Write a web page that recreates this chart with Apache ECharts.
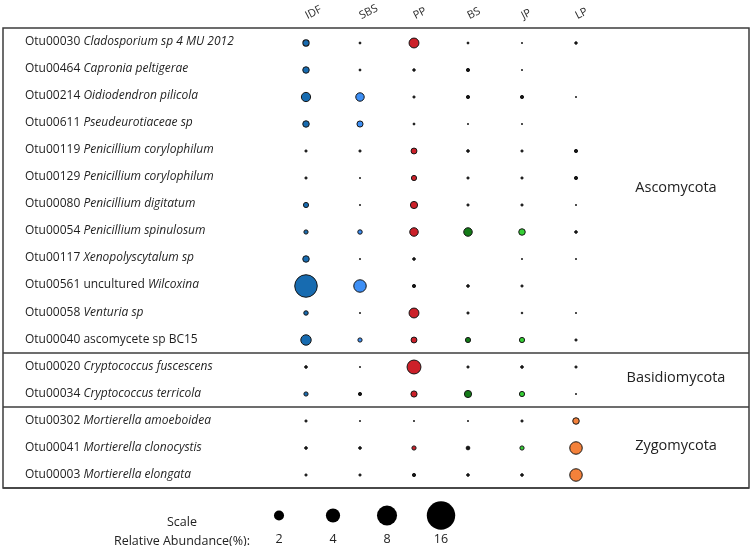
<!DOCTYPE html>
<html>
<head>
<meta charset="utf-8">
<script src="https://cdn.jsdelivr.net/npm/echarts@6/dist/echarts.min.js"></script>
<style>html,body{margin:0;padding:0;background:#fff;}#chart{width:752px;height:546px;}</style>
</head>
<body>
<div id="chart"></div>
<script>
// ---- data ----
const sites = ['IDF', 'SBS', 'PP', 'BS', 'JP', 'LP'];
const otuIds = ['Otu00030','Otu00464','Otu00214','Otu00611','Otu00119','Otu00129','Otu00080','Otu00054','Otu00117','Otu00561','Otu00058','Otu00040','Otu00020','Otu00034','Otu00302','Otu00041','Otu00003'];
const taxa = ['Cladosporium sp 4 MU 2012','Capronia peltigerae','Oidiodendron pilicola','Pseudeurotiaceae sp','Penicillium corylophilum','Penicillium corylophilum','Penicillium digitatum','Penicillium spinulosum','Xenopolyscytalum sp','uncultured Wilcoxina','Venturia sp','ascomycete sp BC15','Cryptococcus fuscescens','Cryptococcus terricola','Mortierella amoeboidea','Mortierella clonocystis','Mortierella elongata'];
// relative abundance (%) per site, one value per OTU row (null = absent)
const idf = [1.0, 1.05, 2.0, 1.05, 0.18, 0.18, 0.7, 0.5, 1.05, 10.8, 0.55, 2.5, 0.24, 0.5, 0.18, 0.24, 0.18];
const sbs = [0.15, 0.15, 1.7, 0.95, 0.18, 0.08, 0.08, 0.55, 0.08, 3.5, 0.08, 0.5, 0.08, 0.32, 0.08, 0.24, 0.18];
const pp  = [2.27, 0.22, 0.18, 0.15, 0.89, 0.71, 1.27, 1.72, 0.24, 0.32, 2.27, 0.89, 4.3, 0.97, 0.08, 0.5, 0.32];
const bs  = [0.15, 0.32, 0.32, 0.08, 0.24, 0.18, 0.18, 1.72, null, 0.24, 0.18, 0.71, 0.18, 1.27, 0.08, 0.4, 0.24];
const jp  = [0.08, 0.08, 0.32, 0.08, 0.18, 0.18, 0.18, 1.06, 0.08, 0.18, 0.12, 0.71, 0.24, 0.71, 0.18, 0.5, 0.24];
const lp  = [0.22, null, 0.08, null, 0.32, 0.32, 0.08, 0.24, 0.08, null, 0.045, 0.18, 0.18, 0.08, 1.06, 3.5, 3.5];
const scaleValues = [2, 4, 8, 16];
const groupNames = ['Ascomycota', 'Basidiomycota', 'Zygomycota'];
const groupFirstRow = [0, 12, 14];
const groupLastRow = [11, 13, 16];

// ---- styles ----
const siteColors = ['#176bb0', '#3d8ff5', '#cc2029', '#137a17', '#35cf35', '#f4813a'];
const SMALL_COLOR = '#151515';
const FONT = '"Open Sans", "Noto Sans", sans-serif';

const siteValues = [idf, sbs, pp, bs, jp, lp];
const rowLabels = otuIds.map((id, i) => id + ' ' + taxa[i]);
function diam(v) { return 7.1 * Math.sqrt(v); }

function labelFmt(val) {
  const sp = val.indexOf(' ');
  const id = val.slice(0, sp);
  const rest = val.slice(sp + 1);
  if (rest.startsWith('uncultured ')) {
    return '{n|' + id + ' uncultured }{i|' + rest.slice(11) + '}';
  }
  if (rest.startsWith('ascomycete')) {
    return '{n|' + id + ' ' + rest + '}';
  }
  return '{n|' + id + ' }{i|' + rest + '}';
}

const series = sites.map((s, k) => ({
  type: 'scatter',
  xAxisIndex: 1, yAxisIndex: 1,
  data: siteValues[k].map((v, r) => v == null ? null : [s, rowLabels[r], v]).filter(d => d),
  symbolSize: d => Math.max(1.2, diam(d[2]) - 0.8),
  itemStyle: {
    color: p => diam(p.value[2]) < 4.6 ? SMALL_COLOR : siteColors[k],
    borderColor: '#161616', borderWidth: 1, opacity: 1
  },
  emphasis: { disabled: true },
  z: 3
}));
series.push({
  type: 'scatter',
  xAxisIndex: 2, yAxisIndex: 2,
  data: scaleValues.map(v => [String(v), 'scale', v]),
  symbolSize: d => diam(d[2]),
  itemStyle: { color: '#000', opacity: 1 },
  emphasis: { disabled: true }
});

const chart = echarts.init(document.getElementById('chart'), null, { renderer: 'canvas' });
const option = {
  animation: false,
  backgroundColor: '#fff',
  textStyle: { fontFamily: FONT },
  grid: [
    { left: 3, top: 28, width: 746, height: 460, show: true, borderColor: '#3c3c3c', borderWidth: 1.5, backgroundColor: 'transparent', containLabel: false },
    { left: 279, top: 29.5, width: 324, height: 459, containLabel: false },
    { left: 252, top: 505, width: 216, height: 24, containLabel: false }
  ],
  xAxis: [
    { gridIndex: 0, type: 'value', min: 0, max: 1, show: false },
    { gridIndex: 1, type: 'category', data: sites, position: 'top',
      axisLine: { show: false }, axisTick: { show: false }, splitLine: { show: false },
      axisLabel: { rotate: -27, margin: 13, fontSize: 11, color: '#2a2a2a', fontFamily: FONT } },
    { gridIndex: 2, type: 'category', data: scaleValues.map(String), position: 'bottom',
      axisLine: { show: false }, axisTick: { show: false },
      axisLabel: { margin: 7, fontSize: 12.5, color: '#222', fontFamily: FONT } }
  ],
  yAxis: [
    { gridIndex: 0, type: 'category', data: rowLabels, inverse: true,
      axisLine: { show: false }, axisTick: { show: false },
      splitLine: { show: true, interval: (i) => i === 12 || i === 14, lineStyle: { color: '#3c3c3c', width: 1.5 } },
      axisLabel: { inside: true, align: 'left', margin: 22, formatter: labelFmt,
        rich: {
          n: { fontSize: 12, color: '#1e1e1e', fontFamily: FONT },
          i: { fontSize: 12, color: '#1e1e1e', fontStyle: 'italic', fontFamily: FONT }
        } } },
    { gridIndex: 1, type: 'category', data: rowLabels, inverse: true, show: false },
    { gridIndex: 2, type: 'category', data: ['scale'], show: false }
  ],
  series: series
};
chart.setOption(option);

// group labels on the right, centred on their rows
const graphics = groupNames.map((g, i) => {
  const y1 = chart.convertToPixel({ yAxisIndex: 0 }, rowLabels[groupFirstRow[i]]);
  const y2 = chart.convertToPixel({ yAxisIndex: 0 }, rowLabels[groupLastRow[i]]);
  return { type: 'text', x: 676, y: (y1 + y2) / 2 - 2,
    style: { text: g, fontSize: 14.5, fill: '#222', fontFamily: FONT, textAlign: 'center', textVerticalAlign: 'middle' } };
});
graphics.push({ type: 'text', x: 182, y: 522, style: { text: 'Scale', fontSize: 12.5, fill: '#222', fontFamily: FONT, textAlign: 'center', textVerticalAlign: 'middle' } });
graphics.push({ type: 'text', x: 182, y: 541, style: { text: 'Relative Abundance(%):', fontSize: 12.5, fill: '#222', fontFamily: FONT, textAlign: 'center', textVerticalAlign: 'middle' } });
chart.setOption({ graphic: graphics });
</script>
</body>
</html>
